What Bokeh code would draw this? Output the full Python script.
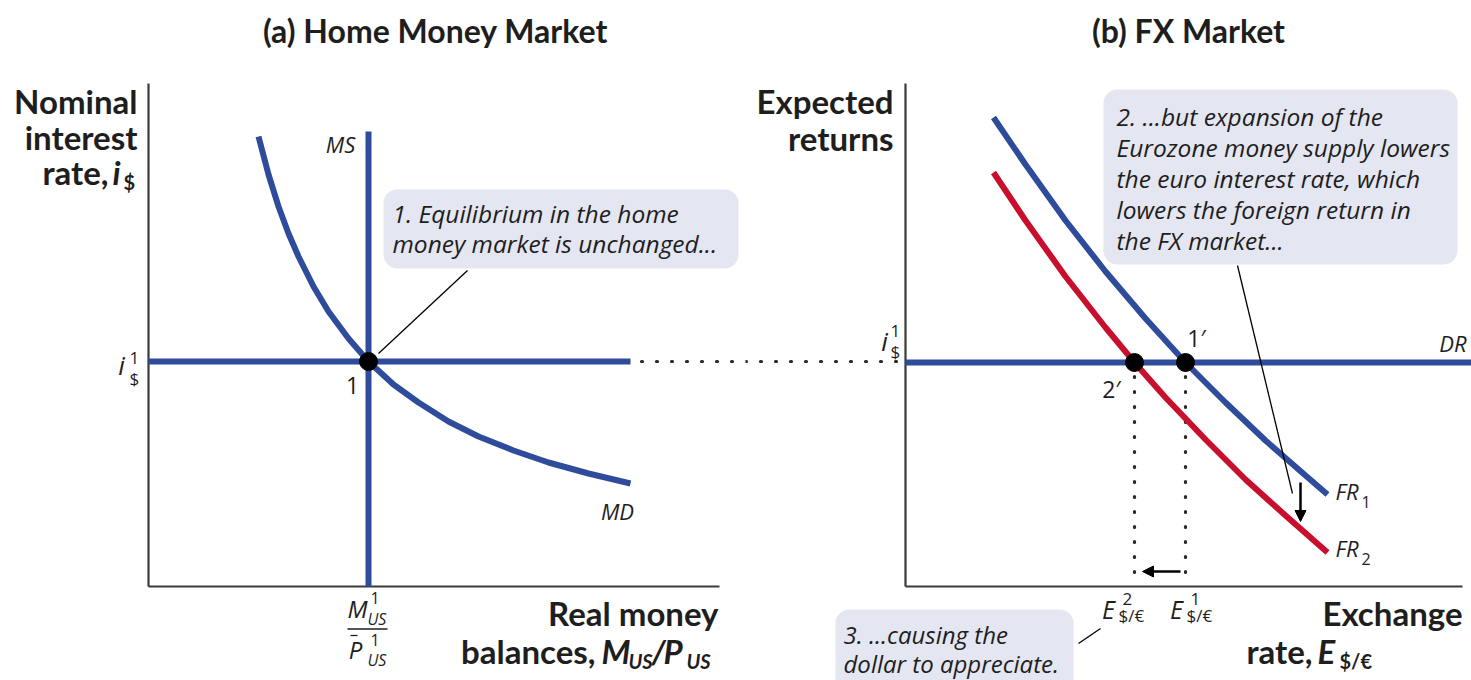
from bokeh.plotting import figure
from bokeh.layouts import row
from bokeh.models import Range1d, BoxAnnotation, Arrow, NormalHead, ColumnDataSource
from bokeh.core.properties import value
from bokeh.embed import file_html
from bokeh.resources import INLINE

# ---------------- data (diagram units, origin = axes corner) ----------------
# Panel (a): Home money market
MD_X = [11.0, 12.0, 13.0, 14.0, 15.0, 16.5, 18.0, 20.0, 22.0, 24.5, 27.0,
        30.0, 33.0, 36.5, 40.0, 44.0, 48.2]
MD_Y = [45.0, 41.2, 38.0, 35.3, 33.0, 30.0, 27.5, 24.8, 22.5, 20.2, 18.4,
        16.5, 15.0, 13.6, 12.4, 11.3, 10.3]
MS_X = [22.0, 22.0]
MS_Y = [0.0, 45.5]
I1 = 22.5                      # equilibrium nominal interest rate i$^1
DR_LEFT_X = [0.0, 48.2]
EQ1_X = [22.0]
EQ1_Y = [22.5]

# Panel (b): FX market
FR1_X = [8.8, 12.0, 16.0, 20.0, 24.0, 28.0, 32.0, 36.0, 40.0, 42.2]
FR1_Y = [46.9, 42.2, 36.6, 31.5, 26.8, 22.4, 18.4, 14.6, 11.1, 9.2]
FR2_X = [8.8, 12.0, 16.0, 20.0, 22.9, 26.0, 30.0, 34.0, 38.0, 42.2]
FR2_Y = [41.4, 36.6, 31.0, 25.9, 22.4, 18.9, 14.7, 10.7, 7.1, 3.4]
E1 = 28.0                      # initial exchange rate (point 1')
E2 = 22.9                      # new exchange rate (point 2')
EQ_FX_X = [E2, E1]
EQ_FX_Y = [22.4, 22.4]

TITLES = ["(a) Home Money Market", "(b) FX Market"]
NOTE1 = ["1. Equilibrium in the home", "money market is unchanged..."]
NOTE2 = ["2. ...but expansion of the", "Eurozone money supply lowers",
         "the euro interest rate, which", "lowers the foreign return in",
         "the FX market..."]
NOTE3 = ["3. ...causing the", "dollar to appreciate."]

# ---------------- styling ----------------
BLUE = "#2e4c9b"
RED = "#c8102e"
AXIS = "#3a3a3a"
DOT = "#2a2a2a"
BOXFILL = "#e4e6f1"
INK = "#1e1e1e"
BOLD = "Lato"
ITAL = "Open Sans"
YR = (-9.4, 58.6)


def make_fig(x0, x1, w):
    p = figure(width=w, height=680, x_range=Range1d(x0, x1), y_range=Range1d(*YR),
               x_axis_type=None, y_axis_type=None, toolbar_location=None,
               output_backend="svg", min_border=0)
    p.outline_line_color = None
    p.background_fill_color = "white"
    p.border_fill_color = "white"
    return p


def txt(p, x, y, s, size, font=BOLD, style="normal", align="left", baseline="middle", color=INK):
    src = ColumnDataSource(dict(x=[x], y=[y], t=[s]))
    p.text(x="x", y="y", text="t", source=src, text_font=value(font), text_font_style=style,
           text_font_size=value(f"{size}px"), text_align=align, text_baseline=baseline,
           text_color=color)


def arrow(p, xs, ys, xe, ye):
    p.add_layout(Arrow(end=NormalHead(size=11, fill_color="black", line_color="black"),
                       x_start=xs, y_start=ys, x_end=xe, y_end=ye,
                       line_color="black", line_width=2.5))


def dotted(p, xs, ys):
    p.line(xs, ys, line_color=DOT, line_width=3.2, line_dash="1 14", line_cap="round")


# ================= Panel (a) =================
pa = make_fig(-14.8, 59.7, 745)

pa.line([0, 0], [0, 50.3], line_color=AXIS, line_width=2.2)
pa.line([0, 57.1], [0, 0], line_color=AXIS, line_width=2.2)

dotted(pa, [49.3, 59.7], [I1, I1])

pa.line(DR_LEFT_X, [I1, I1], line_color=BLUE, line_width=6)
pa.line(MS_X, MS_Y, line_color=BLUE, line_width=6)
pa.line(MD_X, MD_Y, line_color=BLUE, line_width=6, line_join="round")

pa.add_layout(BoxAnnotation(left=23.5, right=59.0, top=39.7, bottom=31.8, fill_color=BOXFILL,
                            fill_alpha=1, line_color=None, border_radius=14, level="underlay"))
pa.line([23.0, 31.9], [23.3, 31.6], line_color="black", line_width=1.3)
for k, s in enumerate(NOTE1):
    txt(pa, 24.4, 37.3 - 3.0 * k, s, 24.5, font=ITAL, style="italic")

pa.scatter(EQ1_X, EQ1_Y, size=18, color="black")

txt(pa, 28.7, 55.6, TITLES[0], 32, style="bold", align="center")
txt(pa, -1.1, 48.6, "Nominal", 33, style="bold", align="right")
txt(pa, -1.1, 45.0, "interest", 33, style="bold", align="right")
txt(pa, -4.0, 41.5, "rate,", 33, style="bold", align="right")
txt(pa, -3.6, 41.5, "i", 33, style="bold italic")
txt(pa, -2.5, 40.5, "$", 20, style="bold")

txt(pa, 57.0, -2.6, "Real money", 33, style="bold", align="right")
txt(pa, 44.7, -6.4, "balances,", 33, style="bold", align="right")
txt(pa, 45.3, -6.4, "M", 33, style="bold italic")
txt(pa, 48.0, -7.4, "US", 20, style="bold italic")
txt(pa, 50.3, -6.4, "/", 33, style="bold italic")
txt(pa, 51.5, -6.4, "P", 33, style="bold italic")
txt(pa, 53.8, -7.4, "US", 20, style="bold italic")

txt(pa, -2.7, 22.2, "i", 26, font=ITAL, style="italic", align="center")
txt(pa, -1.9, 22.9, "1", 17, font=ITAL)
txt(pa, -1.9, 20.8, "$", 17, font=ITAL)

txt(pa, 20.9, -2.2, "M", 24, font=ITAL, style="italic", align="center")
txt(pa, 22.2, -1.1, "1", 16, font=ITAL)
txt(pa, 21.9, -3.2, "US", 16, font=ITAL, style="italic")
pa.line([19.9, 23.9], [-4.25, -4.25], line_color=INK, line_width=1.5)
txt(pa, 20.7, -6.3, "P", 24, font=ITAL, style="italic", align="center")
pa.line([20.2, 20.9], [-4.9, -4.9], line_color=INK, line_width=1.3)
txt(pa, 22.2, -5.3, "1", 16, font=ITAL)
txt(pa, 21.9, -7.3, "US", 16, font=ITAL, style="italic")

txt(pa, 20.4, 20.1, "1", 23, font=ITAL, align="center")
txt(pa, 19.2, 44.3, "MS", 22, font=ITAL, style="italic", align="center")
txt(pa, 46.9, 7.6, "MD", 22, font=ITAL, style="italic", align="center")

# ================= Panel (b) =================
pb = make_fig(-16.0, 56.6, 726)

pb.line([0, 0], [0, 50.3], line_color=AXIS, line_width=2.2)
pb.line([0, 55.7], [0, 0], line_color=AXIS, line_width=2.2)

dotted(pb, [-16.0, -0.8], [I1, I1])
for ex in EQ_FX_X:
    dotted(pb, [ex, ex], [21.0, 0.0])

pb.add_layout(BoxAnnotation(left=19.8, right=55.2, top=49.7, bottom=32.2, fill_color=BOXFILL,
                            fill_alpha=1, line_color=None, border_radius=14, level="underlay"))
pb.add_layout(BoxAnnotation(left=-7.0, right=16.8, top=-2.3, bottom=-10.5, fill_color=BOXFILL,
                            fill_alpha=1, line_color=None, border_radius=14, level="underlay"))

pb.line([0, 56.6], [22.4, 22.4], line_color=BLUE, line_width=6)
pb.line(FR1_X, FR1_Y, line_color=BLUE, line_width=6, line_join="round")
pb.line(FR2_X, FR2_Y, line_color=RED, line_width=6, line_join="round")

pb.line([33.2, 38.7], [32.1, 9.3], line_color="black", line_width=1.3)
pb.line([17.3, 19.5], [-5.7, -4.2], line_color="black", line_width=1.3)
arrow(pb, 39.5, 10.4, 39.5, 6.5)
arrow(pb, 27.5, 1.5, 23.7, 1.5)

pb.scatter(EQ_FX_X, EQ_FX_Y, size=18, color="black")

for k, s in enumerate(NOTE2):
    txt(pb, 21.1, 47.0 - 3.1 * k, s, 24.5, font=ITAL, style="italic")
for k, s in enumerate(NOTE3):
    txt(pb, -6.2, -4.8 - 2.9 * k, s, 24, font=ITAL, style="italic")

txt(pb, 28.3, 55.6, TITLES[1], 32, style="bold", align="center")
txt(pb, -1.2, 48.6, "Expected", 33, style="bold", align="right")
txt(pb, -1.2, 44.9, "returns", 33, style="bold", align="right")

txt(pb, 55.7, -2.6, "Exchange", 33, style="bold", align="right")
txt(pb, 40.7, -6.4, "rate,", 33, style="bold", align="right")
txt(pb, 41.2, -6.4, "E", 33, style="bold italic")
txt(pb, 43.4, -7.4, "$/€", 20, style="bold")

txt(pb, -2.1, 24.6, "i", 26, font=ITAL, style="italic", align="center")
txt(pb, -1.5, 25.6, "1", 17, font=ITAL)
txt(pb, -1.5, 23.5, "$", 17, font=ITAL)

txt(pb, 20.3, -2.2, "E", 25, font=ITAL, style="italic", align="center")
txt(pb, 21.7, -1.2, "2", 17, font=ITAL)
txt(pb, 21.3, -2.9, "$/€", 17, font=ITAL)
txt(pb, 27.1, -2.2, "E", 25, font=ITAL, style="italic", align="center")
txt(pb, 28.5, -1.2, "1", 17, font=ITAL)
txt(pb, 28.1, -2.9, "$/€", 17, font=ITAL)

txt(pb, 56.1, 24.4, "DR", 22, font=ITAL, style="italic", align="right")
txt(pb, 29.1, 24.9, "1′", 23, font=ITAL, align="center")
txt(pb, 20.6, 19.8, "2′", 23, font=ITAL, align="center")
txt(pb, 43.0, 9.6, "FR", 22, font=ITAL, style="italic")
txt(pb, 45.6, 8.5, "1", 16, font=ITAL)
txt(pb, 43.0, 3.9, "FR", 22, font=ITAL, style="italic")
txt(pb, 45.6, 2.8, "2", 16, font=ITAL)

layout = row(pa, pb, spacing=0)
open("out.html", "w").write(file_html(layout, INLINE))
